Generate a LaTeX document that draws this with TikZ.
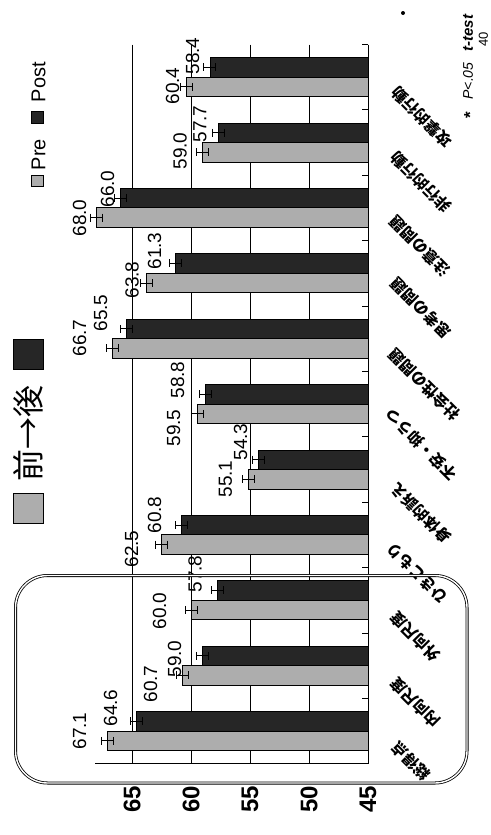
\documentclass[tikz,border=0pt]{standalone}
\usepackage{fontspec}
\setmainfont{Liberation Sans}
\newfontfamily\jp{Noto Sans CJK JP}
\begin{document}
\begin{tikzpicture}[x=1pt,y=-1pt,
  prebar/.style={draw=black,line width=0.7pt,fill=black!32},
  postbar/.style={draw=black,line width=0.7pt,fill=black!85},
  gridl/.style={line width=0.8pt},
  errbar/.style={line width=0.8pt},
  vlabel/.style={rotate=90,font=\fontsize{19}{19}\selectfont,inner sep=0pt},
  ticklabel/.style={rotate=90,font=\bfseries\fontsize{24}{24}\selectfont,inner sep=0pt},
  catlabel/.style={rotate=135,font=\jp\bfseries\fontsize{15.5}{15.5}\selectfont,inner sep=0pt},
  legbox/.style={draw=black,line width=0.7pt,minimum size=#1,inner sep=0pt},
  note/.style={rotate=90,font=\fontsize{14}{14}\selectfont,inner sep=0pt}]
\useasboundingbox (0,0) rectangle (490,835);
\fill[white] (0,0) rectangle (490,835);
% gridlines
\foreach \v in {50,55,60,65}{
  \pgfmathsetmacro\gx{368-(\v-45)*11.8}
  \draw[gridl] (\gx,44.6) -- (\gx,763.7);
}
% bars
\foreach \i/\pre/\post/\plx/\ply/\qlx/\qly in {
 0/67.1/64.6/79.5/731/110.5/708,
 1/60.7/59.0/150.5/684/174.5/659,
 2/60.0/57.8/159.5/611/195/574,
 3/62.5/60.8/131.5/549/154.5/515,
 4/55.1/54.3/225.5/479/240.5/442,
 5/59.5/58.8/173.5/428/177.5/380,
 6/66.7/65.5/79.5/338/100.5/313,
 7/63.8/61.3/132/280/154.5/251,
 8/68.0/66.0/79.5/218/107.5/189,
 9/59.0/57.7/180/151/200/124,
 10/60.4/58.4/172.5/86/192.5/56}{
  \pgfmathsetmacro\c{731-65.4*\i}
  \pgfmathsetmacro\xa{368-(\pre-45)*11.8}
  \pgfmathsetmacro\xb{368-(\post-45)*11.8}
  \pgfmathsetmacro\ya{\c+9.75}
  \pgfmathsetmacro\yb{\c-9.75}
  \draw[postbar] (368,\c-19.5) rectangle (\xb,\c);
  \draw[prebar] (368,\c) rectangle (\xa,\c+19.5);
  \draw[errbar] (\xa-6,\ya) -- (\xa+6,\ya) (\xa-6,\ya-4) -- (\xa-6,\ya+4) (\xa+6,\ya-4) -- (\xa+6,\ya+4);
  \draw[errbar] (\xb-6,\yb) -- (\xb+6,\yb) (\xb-6,\yb-4) -- (\xb-6,\yb+4) (\xb+6,\yb-4) -- (\xb+6,\yb+4);
  \node[vlabel] (pre\i) at (\plx,\ply) {\pre};
  \node[vlabel] (post\i) at (\qlx,\qly) {\post};
}
% axes
\draw[line width=1pt] (368,44.6) -- (368,763.7);
\draw[line width=1pt] (95,763.7) -- (368,763.7);
\foreach \k in {0,...,11}{
  \pgfmathsetmacro\ty{763.7-65.4*\k}
  \draw[line width=0.8pt] (362,\ty) -- (368,\ty);
}
% tick labels
\foreach \v in {45,50,55,60,65}{
  \pgfmathsetmacro\gx{368-(\v-45)*11.8}
  \node[ticklabel] (tick\v) at (\gx,799) {\v};
}
% category labels
\foreach \i/\lx/\ly/\t in {
 0/411/761/総得点,
 1/415/703/内向尺度,
 2/415/637/外向尺度,
 3/417/573/ひきこもり,
 4/421/513/身体的訴え,
 5/421/445/不安・抑うつ,
 6/424/385/社会性の問題,
 7/421/308/思考の問題,
 8/420/246/注意の問題,
 9/421/182/非行的行動,
 10/422/117/攻撃的行動}{
  \node[catlabel] (cat\i) at (\lx,\ly) {\t};
}
% highlight frame
\draw[line width=0.8pt,double,double distance=1.4pt,rounded corners=32pt] (15.5,575.5) rectangle (467,783);
% legend 1
\node[legbox=30pt,fill=black!32] (legpre) at (28,508) {};
\node[legbox=30pt,fill=black!85] (legpost) at (28,354.5) {};
\node[rotate=90,inner sep=0pt,font=\jp\fontsize{32}{32}\selectfont] (legtxt) at (28,433) {前→後};
% legend 2
\node[legbox=11.5pt,fill=black!32] (lpre) at (37.5,181) {};
\node[rotate=90,inner sep=0pt,font=\fontsize{20}{20}\selectfont] (lpretxt) at (38.5,154.5) {Pre};
\node[legbox=11.5pt,fill=black!85] (lpost) at (37.5,117.5) {};
\node[rotate=90,inner sep=0pt,font=\fontsize{20}{20}\selectfont] (lposttxt) at (38.5,82) {Post};
% notes
\node[note,font=\bfseries\fontsize{17}{17}\selectfont] (star) at (470,115.5) {*};
\node[note,font=\itshape\fontsize{14}{14}\selectfont] (pval) at (468,81) {P<.05};
\node[note,font=\bfseries\itshape\fontsize{15}{15}\selectfont] (ttest) at (468,33) {t-test};
\node[note,font=\fontsize{13}{13}\selectfont] (pagenum) at (483.5,39) {40};
\fill (403,13) circle (2);
\end{tikzpicture}
\end{document}
